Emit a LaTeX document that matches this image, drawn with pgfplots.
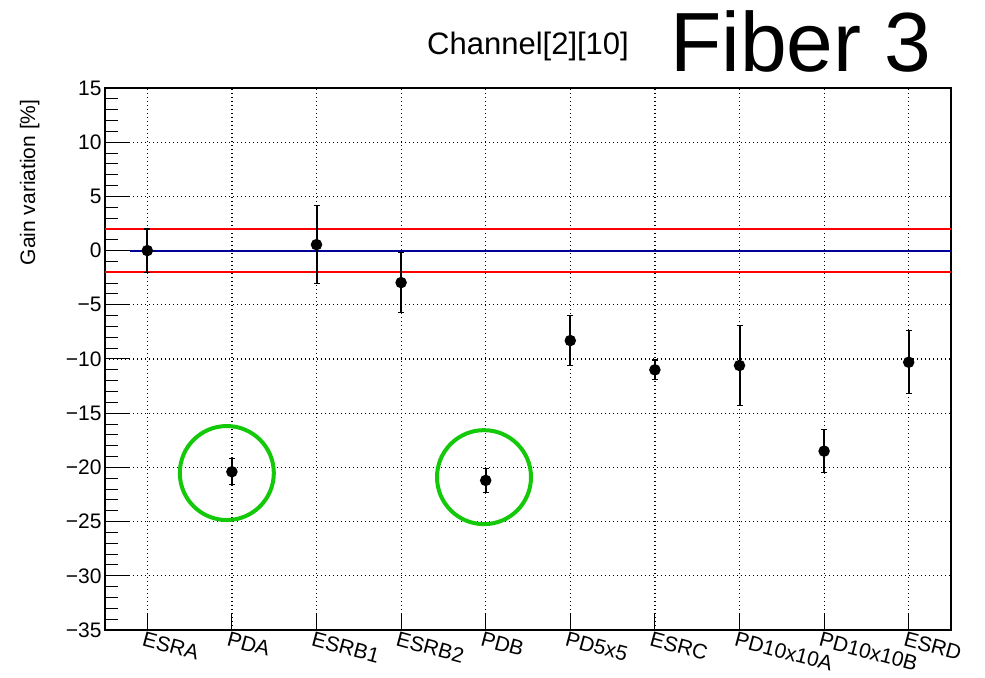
\documentclass[border=0pt]{standalone}
\usepackage{fontspec}
\setmainfont{Liberation Sans}
\usepackage{pgfplots}
\pgfplotsset{compat=1.18}
\usepackage{pgfplotstable}
\definecolor{rootred}{RGB}{255,0,0}
\definecolor{rootblue}{RGB}{0,0,153}
\definecolor{markgreen}{RGB}{20,200,10}
\pgfplotstableread{
x y e
0 0.00 2.00
1 -20.40 1.20
2 0.55 3.60
3 -2.95 2.75
4 -21.20 1.10
5 -8.30 2.30
6 -11.00 0.90
7 -10.60 3.70
8 -18.50 2.00
9 -10.30 2.90
}\gaindata
\begin{document}
\begin{tikzpicture}
\begin{axis}[
 at={(105bp,48bp)}, anchor=south west,
 scale only axis, width=846bp, height=542bp,
 xmin=-0.5, xmax=9.5, ymin=-35, ymax=15,
 xtick={0,...,9},
 xticklabels={ESRA,PDA,ESRB1,ESRB2,PDB,PD5x5,ESRC,PD10x10A,PD10x10B,ESRD},
 ytick={-35,-30,...,15},
 yticklabels={−35,−30,−25,−20,−15,−10,−5,0,5,10,15},
 minor ytick={-34,-33,...,14},
 xtick pos=bottom, ytick pos=left,
 tick align=inside,
 major tick length=25bp, minor tick length=12.5bp,
 xtick style={/pgfplots/major tick length=16bp},
 tick style={black, line width=1bp},
 grid=major,
 major grid style={black, line width=1.2bp, dash pattern=on 1.2bp off 2.8bp},
 axis line style={line width=1.2bp},
 ticklabel style={font=\fontsize{21bp}{25bp}\selectfont},
 xticklabel style={anchor=north west, inner sep=1bp, xshift=-3bp, rotate=-15},
 ylabel={Gain variation [\%]},
 ylabel style={font=\fontsize{21bp}{25bp}\selectfont, at={([xshift=-62bp,yshift=-8bp]rel axis cs:0,1)}, anchor=south east},
]
\addplot[rootred, line width=2bp] coordinates {(-0.5,2) (9.5,2)};
\addplot[rootred, line width=2bp] coordinates {(-0.5,-2) (9.5,-2)};
\addplot[rootblue, line width=2bp] coordinates {(-0.2,0) (9.5,0)};
\addplot[only marks, mark=*, mark size=4.7bp, black, line width=2bp,
  error bars/.cd, y dir=both, y explicit, error mark=-,
  error bar style={line width=2bp, black},
  error mark options={rotate=90, line width=1.2bp, mark size=3bp, black}]
  table[x=x, y=y, y error=e] {\gaindata};
\addplot[only marks, mark=o, mark size=47bp, markgreen, mark options={line width=4bp}]
  coordinates {(0.94,-20.52) (3.98,-20.9)};
\end{axis}
\node[anchor=base west, font=\fontsize{31bp}{36bp}\selectfont, inner sep=0pt] at (427bp,623bp) {Channel[2][10]};
\node[anchor=base west, font=\fontsize{84bp}{90bp}\selectfont, inner sep=0pt] at (670bp,606bp) {Fiber 3};
\pgfresetboundingbox
\path[use as bounding box] (0,0) rectangle (985bp,678bp);
\end{tikzpicture}
\end{document}
